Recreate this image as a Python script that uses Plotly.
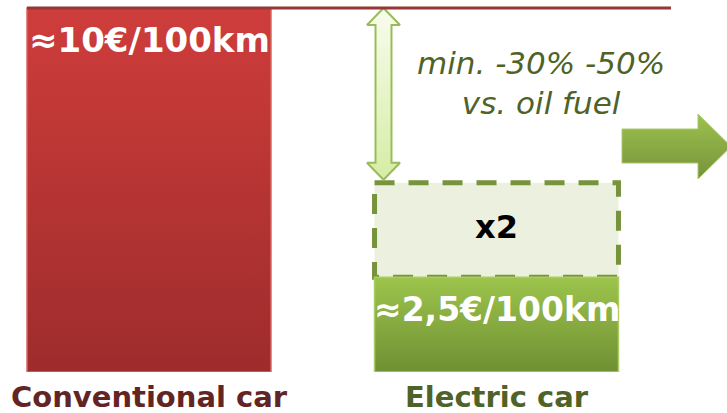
import plotly.graph_objects as go

# ---- data ----
categories = ["Conventional car", "Electric car"]
cost_per_100km = [10.0, 2.6]            # bar heights (scale)
cost_labels = ["≈10€/100km", "≈2,5€/100km"]
uplift_factor = 2                        # dashed box: electric cost x2
uplift_label = "x2"
saving_lines = ["min. -30% -50%", "vs. oil fuel"]
label_colors = ["#632523", "#4F6228"]

# ---- style / geometry ----
W, H = 727, 413
x_pos = [0, 1]
bar_w = 0.702
px_x = 347.5      # pixels per x unit
px_y = 36.4       # pixels per y unit
x_range = [-149 / px_x, (W - 149) / px_x]
y_top = cost_per_100km[0] + 8 / px_y
y_range = [0, y_top]

def px2x(p):
    return (p - 149) / px_x

def px2y(p):
    return (372 - p) / px_y

fig = go.Figure()

bar_grad = [
    [[0, "#9E2C2C"], [1, "#CE3D3B"]],
    [[0, "#6F9033"], [1, "#9DC44C"]],
]
bar_edge = ["#D8605B", "#A9CC66"]

# dashed "x2" box on top of electric bar
e = cost_per_100km[1]
e2 = e * uplift_factor
xc = x_pos[1]
fig.add_trace(go.Scatter(
    x=[xc - bar_w / 2, xc + bar_w / 2, xc + bar_w / 2, xc - bar_w / 2, xc - bar_w / 2],
    y=[e2, e2, e, e, e2],
    mode="lines", fill="toself", fillcolor="#EBF1DE",
    line=dict(color="#77933C", width=5, dash="20px,14px"),
    hoverinfo="skip"))

# bars
for i, (xp, v) in enumerate(zip(x_pos, cost_per_100km)):
    fig.add_trace(go.Scatter(
        x=[xp - bar_w / 2, xp + bar_w / 2, xp + bar_w / 2, xp - bar_w / 2, xp - bar_w / 2],
        y=[0, 0, v, v, 0],
        mode="lines", fill="toself",
        fillgradient=dict(type="vertical", colorscale=bar_grad[i]),
        line=dict(color=bar_edge[i], width=1.5),
        name=categories[i], hoverinfo="name+y"))

# double arrow between the two levels
cx = px2x(383.5)
hwh = 16.5 / px_x
hws = 8 / px_x
hh = 17 / px_y
top = cost_per_100km[0]
bot = e2 + 3 / px_y
ax = [cx, cx + hwh, cx + hws, cx + hws, cx + hwh, cx, cx - hwh, cx - hws, cx - hws, cx - hwh, cx]
ay = [top, top - hh, top - hh, bot + hh, bot + hh, bot, bot + hh, bot + hh, top - hh, top - hh, top]
fig.add_trace(go.Scatter(
    x=ax, y=ay, mode="lines", fill="toself",
    fillgradient=dict(type="vertical", colorscale=[[0, "#D5EDA4"], [1, "#F8FCEE"]]),
    line=dict(color="#9BBB59", width=2), hoverinfo="skip"))

# big right arrow
gx = [622, 698, 698, 731, 698, 698, 622, 622]
gy = [129, 129, 114, 146.5, 179, 163, 163, 129]
fig.add_trace(go.Scatter(
    x=[px2x(p) for p in gx], y=[px2y(p) for p in gy],
    mode="lines", fill="toself",
    fillgradient=dict(type="vertical", colorscale=[[0, "#76923C"], [1, "#9DC24D"]]),
    line=dict(color="#A8C86B", width=1), hoverinfo="skip"))

# top reference line at conventional cost
fig.add_shape(type="line", xref="x", yref="y",
              x0=x_pos[0] - bar_w / 2, x1=px2x(671),
              y0=cost_per_100km[0], y1=cost_per_100km[0],
              line=dict(color="#953735", width=3))

# annotations
fig.add_annotation(x=x_pos[0], y=px2y(40), text=cost_labels[0], showarrow=False,
                   font=dict(family="DejaVu Sans", size=34, color="white", weight="bold"))
fig.add_annotation(x=x_pos[1], y=px2y(309), text=cost_labels[1], showarrow=False,
                   font=dict(family="DejaVu Sans", size=33, color="white", weight="bold"))
fig.add_annotation(x=x_pos[1], y=(e + e2) / 2, yshift=3, text=uplift_label, showarrow=False,
                   font=dict(family="DejaVu Sans", size=32, color="black", weight="bold"))
fig.add_annotation(x=px2x(540.5), y=px2y(83), text="<br>".join(saving_lines), showarrow=False,
                   font=dict(family="DejaVu Sans", size=31, color="#4F6228", style="italic"))

ticktext = [f"<span style='color:{c}'>{t}</span>" for t, c in zip(categories, label_colors)]

fig.update_layout(
    width=W, height=H,
    margin=dict(l=0, r=0, t=0, b=41),
    paper_bgcolor="white", plot_bgcolor="white",
    showlegend=False,
    xaxis=dict(range=x_range, tickvals=x_pos, ticktext=ticktext,
               showgrid=False, zeroline=False, showline=False, ticks="",
               ticklabelstandoff=5, automargin=False,
               tickfont=dict(family="DejaVu Sans", size=29, weight="bold"),
               fixedrange=True),
    yaxis=dict(range=y_range, visible=False, showgrid=False, zeroline=False,
               automargin=False, fixedrange=True),
)

fig.write_html("out.html")
